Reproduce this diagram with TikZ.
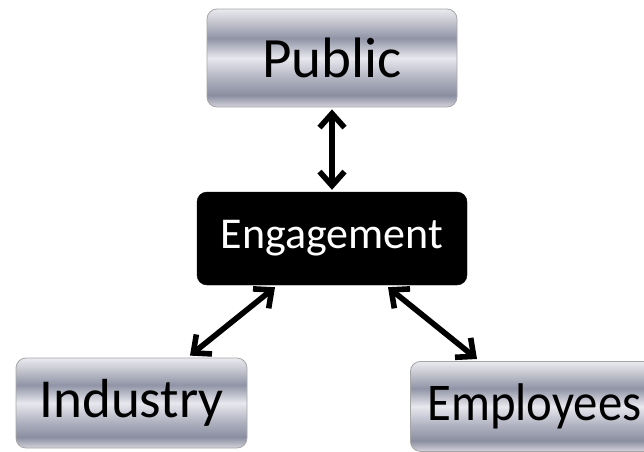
\documentclass[tikz,border=0pt]{standalone}
\usepackage{fontspec}
\setmainfont{Carlito}
\newfontfamily\narrowfont[FakeStretch=0.92]{Carlito}
\usetikzlibrary{arrows.meta,calc}
\definecolor{mA}{HTML}{D4D4DC}
\definecolor{mB}{HTML}{8A8EA0}
\definecolor{mC}{HTML}{B2B4C2}
\definecolor{mD}{HTML}{E8E8EE}
\definecolor{mE}{HTML}{9094A6}
\definecolor{mF}{HTML}{C8C9D2}
\definecolor{mG}{HTML}{EAEAF0}
\pgfdeclareverticalshading{metal}{100bp}{%
  color(0bp)=(mA); color(25bp)=(mA); color(31bp)=(mB); color(40bp)=(mC); color(50bp)=(mD);
  color(60bp)=(mE); color(69bp)=(mF); color(75bp)=(mG); color(100bp)=(mG)}
\tikzset{
  metalbox/.style={draw=gray!70, line width=0.8pt, rounded corners=10pt, shading=metal, shading angle=0, text=black, inner sep=0pt},
  darkbox/.style={fill=black, draw=black, rounded corners=10pt, text=white, inner sep=0pt},
  link/.style={line width=5.6pt, {Straight Barb[length=14pt,width=25pt]}-{Straight Barb[length=14pt,width=25pt]}}
}
\begin{document}
\begin{tikzpicture}[x=1pt,y=-1pt]
\useasboundingbox (0,0) rectangle (644,451);
\node[metalbox, minimum width=250pt, minimum height=98pt, font=\fontsize{57}{60}\selectfont] (Public) at (332,58) {Public};
\node[darkbox, minimum width=270pt, minimum height=93pt, font=\fontsize{44}{48}\selectfont] (Engagement) at (332,238.5) {Engagement};
\node[metalbox, minimum width=231pt, minimum height=90pt, font=\fontsize{55}{60}\selectfont] (Industry) at (131.5,403) {Industry};
\node[metalbox, anchor=north west, minimum height=90pt, inner xsep=17pt, font=\narrowfont\fontsize{53}{58}\selectfont] (Employees) at (410,361) {Employees};
\draw[link] ($(Public.south)+(0,2)$) -- ($(Engagement.north)+(0,-2)$);
\draw[link] ($(Engagement.south)+(-57,2)$) -- ($(Industry.north)+(58.5,-2)$);
\draw[link] ($(Engagement.south)+(56,2)$) -- ($(Employees.north west)+(67,-2)$);
\end{tikzpicture}
\end{document}
